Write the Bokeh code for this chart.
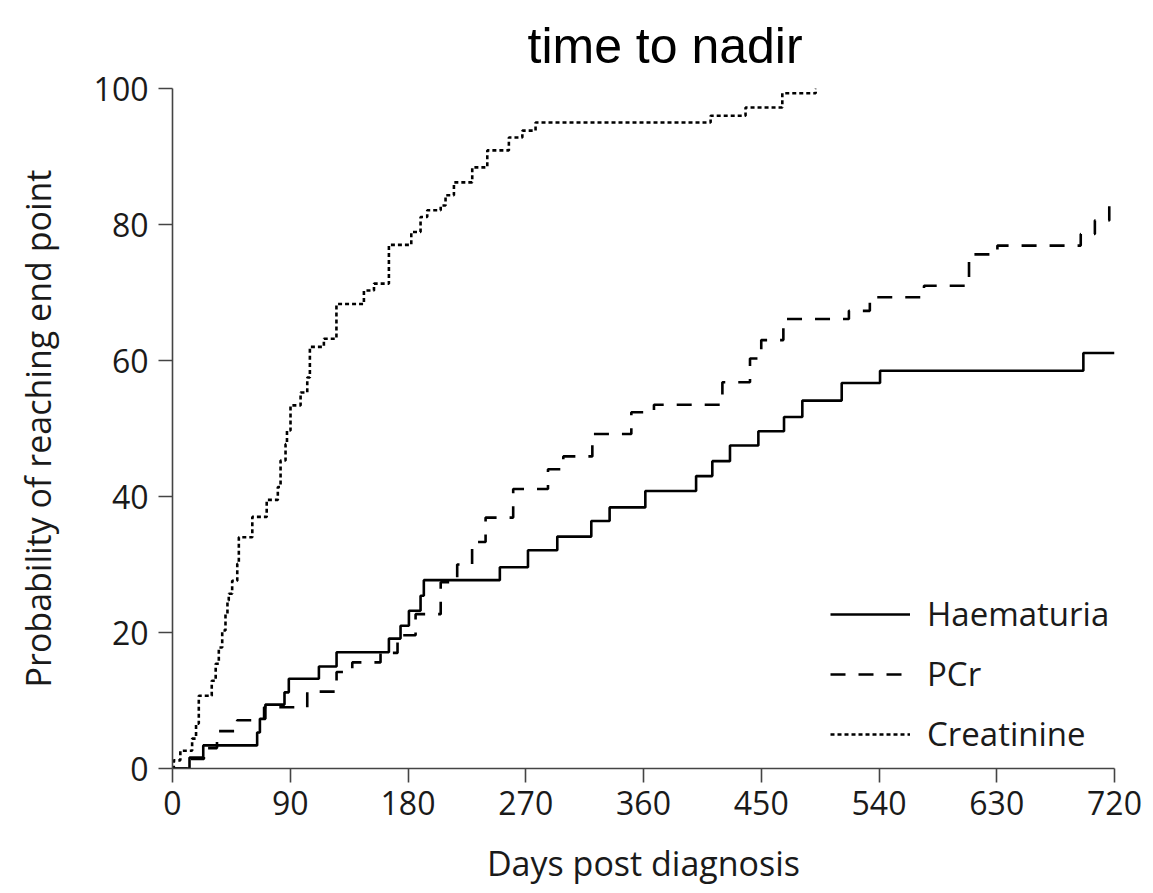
from bokeh.plotting import figure
from bokeh.models import Range1d, FixedTicker, Legend, LegendItem
from bokeh.embed import file_html
from bokeh.resources import INLINE

# ---- data ----
haem_days = [0, 13, 23.5, 64.7, 66.8, 71, 85.6, 88.9, 111.9, 125.4, 165.4, 174.3, 180.7,
             189.6, 192.1, 250.2, 271.7, 294.1, 320.1, 334.1, 361.4, 400.2, 412.6, 426.1,
             447.8, 467.4, 481.4, 511.5, 540.8, 696.2, 720]
haem_prob = [0, 1.6, 3.4, 5.3, 7.3, 9.4, 11.2, 13.2, 15.0, 17.1, 19.1, 21.0, 23.2,
             25.4, 27.7, 29.6, 32.1, 34.1, 36.4, 38.4, 40.8, 43.0, 45.2, 47.5,
             49.6, 51.7, 54.1, 56.7, 58.5, 61.1, 61.1]

pcr_days = [0, 13, 24, 34, 49.4, 70, 103, 125.4, 137.4, 159, 172, 185.8, 205, 217.6,
            229, 239.3, 260.4, 287, 298.7, 320.9, 350.7, 368, 420.3, 441.4, 450,
            466.9, 517, 533, 574.4, 608.8, 630.5, 694.2, 705, 716, 720]
pcr_prob = [0, 1.4, 3.0, 5.5, 7.1, 9.0, 11.3, 14.2, 15.6, 17.0, 19.6, 22.7, 27.4, 30.0,
            33.3, 36.9, 41.1, 44.0, 45.9, 49.2, 52.4, 53.5, 56.8, 60.3, 63.0,
            66.1, 67.3, 69.3, 71.0, 75.6, 76.9, 78.6, 80.6, 83.3, 83.3]

creat_days = [0, 1, 6, 15, 18, 20.1, 30, 33, 35.4, 38, 40.5, 42, 43, 45.6, 49.5, 50.7,
              61, 72, 80.5, 82.6, 86.4, 87.5, 90.2, 97.9, 103, 105, 115.7, 125.3, 146.3,
              154, 165.4, 182.5, 189.6, 194.7, 205, 208.7, 215.1, 229.1, 240.6, 257.1,
              267.4, 277.5, 411.3, 438, 466.1, 491.6, 492]
creat_prob = [0, 1.2, 2.6, 4.4, 6.6, 10.7, 12.9, 15.4, 17.8, 20.3, 22.7, 24.7, 25.7, 27.6,
              30.1, 34.0, 37.0, 39.5, 41.4, 45.3, 47.7, 49.7, 53.4, 55.3, 57.5, 62.0, 63.2,
              68.3, 70.3, 71.3, 77.0, 78.9, 81.1, 82.1, 82.8, 84.3, 86.2, 88.4, 90.9, 92.8,
              93.8, 95.0, 96.0, 97.2, 99.3, 100.0, 100.0]

x_ticks = [0, 90, 180, 270, 360, 450, 540, 630, 720]
y_ticks = [0, 20, 40, 60, 80, 100]

series_names = ["Haematuria", "PCr", "Creatinine"]

FONT = "Open Sans"
TXT = "#1a1a1a"

p = figure(width=1153, height=893, output_backend="svg", toolbar_location=None,
           x_range=Range1d(0, 720), y_range=Range1d(0, 100),
           min_border_left=172, min_border_right=39, min_border_top=87,
           min_border_bottom=125, title="time to nadir")

p.title.text_font = "Liberation Sans"
p.title.text_font_size = "50px"
p.title.text_font_style = "normal"
p.title.align = "left"
p.title.offset = 355
p.title.standoff = 30
p.title.text_color = "#000000"

p.outline_line_color = None
p.grid.visible = False
p.background_fill_color = "white"
p.border_fill_color = "white"

for ax in (p.xaxis[0], p.yaxis[0]):
    ax.axis_line_color = "#444444"
    ax.axis_line_width = 1.6
    ax.major_tick_line_color = "#444444"
    ax.major_tick_line_width = 1.6
    ax.major_tick_out = 14
    ax.major_tick_in = 0
    ax.minor_tick_line_color = None
    ax.major_label_text_font = FONT
    ax.major_label_text_font_size = "32px"
    ax.major_label_text_color = TXT
    ax.axis_label_text_font = FONT
    ax.axis_label_text_font_size = "34px"
    ax.axis_label_text_font_style = "normal"
    ax.axis_label_text_color = TXT

p.xaxis.ticker = FixedTicker(ticks=x_ticks)
p.yaxis.ticker = FixedTicker(ticks=y_ticks)
p.xaxis.axis_label = "Days post diagnosis"
p.yaxis.axis_label = "Probability of reaching end point"
p.xaxis.major_label_standoff = 8
p.yaxis.major_label_standoff = 10
p.xaxis.axis_label_standoff = 22
p.yaxis.axis_label_standoff = 30

r1 = p.step(haem_days, haem_prob, mode="after", line_color="black", line_width=2.6)
r2 = p.step(pcr_days, pcr_prob, mode="after", line_color="black", line_width=2.6,
            line_dash="15 13")
r3 = p.step(creat_days, creat_prob, mode="after", line_color="black", line_width=2.6,
            line_dash="4 3")

legend = Legend(items=[LegendItem(label=series_names[0], renderers=[r1]),
                       LegendItem(label=series_names[1], renderers=[r2]),
                       LegendItem(label=series_names[2], renderers=[r3])],
                location=(658, 12))
legend.border_line_color = None
legend.background_fill_alpha = 0
legend.padding = 0
legend.margin = 0
legend.glyph_width = 80
legend.glyph_height = 30
legend.label_standoff = 17
legend.label_height = 30
legend.spacing = 15
legend.label_text_font = FONT
legend.label_text_font_size = "33px"
legend.label_text_color = TXT
p.add_layout(legend, "center")

open("out.html", "w").write(file_html(p, INLINE))
